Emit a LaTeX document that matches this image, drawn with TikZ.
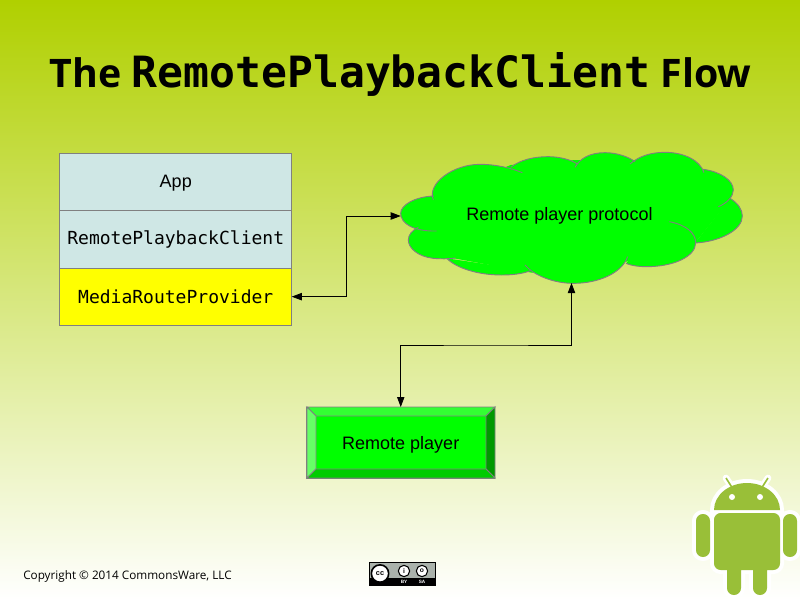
\documentclass[tikz,border=0pt]{standalone}
\usepackage{fontspec}
\setmainfont{Liberation Sans}
\setmonofont{DejaVu Sans Mono}
\newfontfamily\footfont{Open Sans}
\newfontfamily\titlefont{Open Sans}
\usetikzlibrary{positioning,arrows.meta}
\definecolor{skygreen}{HTML}{B0D000}
\definecolor{boxblue}{HTML}{CFE7E5}
\definecolor{boxyellow}{HTML}{FFFF00}
\definecolor{edgegray}{HTML}{808080}
\definecolor{droidgreen}{HTML}{99BF38}
\definecolor{badgegray}{HTML}{AAB2AB}
\tikzset{
	stackbox/.style={draw=edgegray,fill=boxblue,minimum width=174pt,minimum height=43pt,inner sep=0pt,outer sep=0pt,font=\fontsize{13.5}{16}\selectfont\ttfamily},
	flow/.style={{Triangle[length=7.5pt,width=5.5pt]}-{Triangle[length=7.5pt,width=5.5pt]},black,line width=0.6pt},
	bevel/.style={draw=edgegray,line width=0.7pt,line join=miter},
	lobe/.style={fill=green,draw=none}
}
% outline of the cloud, one lobe after another
\newcommand{\cloudlobes}{
	(140,273) .. controls (70,275) and (32,250) .. (32,220) .. controls (32,195) and (75,170) .. (132,168)
	(130,180) .. controls (110,130) and (190,73) .. (270,73) .. controls (320,73) and (365,85) .. (397,98)
	(362,82) .. controls (390,60) and (430,50) .. (475,50) .. controls (510,50) and (545,60) .. (562,72)
	(555,82) .. controls (570,55) and (600,38) .. (645,38) .. controls (680,38) and (715,50) .. (735,65)
	(720,72) .. controls (745,50) and (780,37) .. (825,37) .. controls (880,37) and (930,60) .. (942,98)
	(940,88) .. controls (990,95) and (1030,120) .. (1030,150) .. controls (1030,170) and (1010,190) .. (985,200)
	(1020,175) .. controls (1045,190) and (1057,210) .. (1057,228) .. controls (1057,270) and (990,305) .. (915,309)
	(838,245) .. controls (890,255) and (917,280) .. (917,308) .. controls (917,350) and (850,380) .. (770,380) .. controls (745,380) and (725,377) .. (708,370)
	(713,350) .. controls (695,400) and (625,430) .. (550,430) .. controls (490,430) and (430,405) .. (405,375)
	(422,392) .. controls (395,402) and (365,405) .. (335,405) .. controls (265,405) and (200,385) .. (170,355)
	(197,354) .. controls (175,357) and (150,357) .. (130,355) .. controls (85,350) and (55,325) .. (55,300) .. controls (55,285) and (65,272) .. (85,262)
}
\newcommand{\droidparts}{
	(714,510) arc[start angle=180,end angle=360,x radius=33,y radius=27] -- cycle
	[rounded corners=5pt] (714,513) rectangle (780,570)
	[rounded corners=5.2pt] (696,514) rectangle (710,557)
	(783,514) rectangle (797,557)
	(727,560) rectangle (741,595)
	(753,560) rectangle (767,595)
}
\begin{document}
\begin{tikzpicture}[x=0.75pt,y=-0.75pt]
	\path[use as bounding box,top color=skygreen,bottom color=white] (0,0) rectangle (800,600);

	\node (title) at (400.5,74.5) {\bfseries\titlefont\fontsize{29.5}{36}\selectfont The \ttfamily\fontsize{32.3}{36}\selectfont RemotePlaybackClient\titlefont\fontsize{29.5}{36}\selectfont{} Flow};

	% stack on the left
	\node[stackbox,text depth=1.5pt] (app) at (175.75,182) {\rmfamily App};
	\node[stackbox,below=0pt of app] (client) {RemotePlaybackClient};
	\node[stackbox,below=0pt of client,fill=boxyellow] (provider) {MediaRouteProvider};

	% cloud
	\begin{scope}[shift={(390,140)},x=0.25pt,y=-0.25pt]
		\fill[lobe] (128,172) -- (362,75) -- (558,60) -- (727,60) -- (940,92) -- (1020,178) -- (915,309) -- (710,365) -- (425,398) -- (165,350) -- (75,268) -- cycle;
		\path[lobe] \cloudlobes;
		\draw[edgegray,line width=0.7pt] \cloudlobes;
	\end{scope}
	\node[minimum width=237.75pt,minimum height=100.5pt,inner sep=0pt,font=\fontsize{13.5}{16}\selectfont] (cloud) at (559.5,216) {Remote player protocol};
	\coordinate (cloudtip) at (571.5,283);

	% remote player
	\node[bevel,fill=green,minimum width=141pt,minimum height=53.25pt,inner sep=0pt,outer sep=0pt,text depth=0pt,font=\fontsize{13.5}{16}\selectfont] (player) at (400.75,442.5) {Remote player};
	\fill[green!80!white,bevel] (307,407) -- (495,407) -- (486,416) -- (316,416) -- cycle;
	\fill[green!60!white,bevel] (307,407) -- (316,416) -- (316,469) -- (307,478) -- cycle;
	\fill[green!60!black,bevel] (495,407) -- (495,478) -- (486,469) -- (486,416) -- cycle;
	\fill[green!80!black,bevel] (307,478) -- (316,469) -- (486,469) -- (495,478) -- cycle;

	\coordinate (elbowa) at (346.5,256);
	\coordinate (elbowb) at (486,345);
	\draw[flow] (provider.east) -| (elbowa) |- (cloud.west);
	\draw[flow] (player.north) |- (elbowb) -| (cloudtip);

	\node[anchor=west,font=\fontsize{8.8}{11}\selectfont\footfont,inner sep=0pt] (copyright) at (23,576.5) {Copyright © 2014 CommonsWare, LLC};

	% licence badge
	\node[draw=black,fill=badgegray,minimum width=50pt,minimum height=17pt,inner sep=0pt,line width=0.7pt] (badge) at (402.5,574) {};
	\fill[black] (369,578) rectangle (436,585.5);
	\node[circle,draw=black,fill=white,line width=1.2pt,minimum size=13pt,inner sep=0pt,font=\fontsize{5.5}{6}\selectfont\bfseries] (cc) at (380,573.5) {cc};
	\node[circle,draw=black,fill=white,line width=0.8pt,minimum size=8.5pt,inner sep=0pt,font=\fontsize{5}{6}\selectfont\bfseries] (by) at (404,571) {i};
	\node[circle,draw=black,fill=white,line width=0.8pt,minimum size=8.5pt,inner sep=0pt,font=\fontsize{5}{6}\selectfont\bfseries] (sa) at (422,571) {o};
	\node[text=white,inner sep=0pt,font=\fontsize{3.5}{4}\selectfont\bfseries] (bylabel) at (404,581.5) {BY};
	\node[text=white,inner sep=0pt,font=\fontsize{3.5}{4}\selectfont\bfseries] (salabel) at (422,581.5) {SA};

	% android
	\draw[white,line width=5pt,line cap=round] (726,478) -- (732,487) (768,478) -- (762,487);
	\path[draw=white,fill=white,line width=6pt] \droidparts;
	\fill[droidgreen] \droidparts;
	\draw[droidgreen,line width=1.2pt] (726,478) -- (733,489) (768,478) -- (761,489);
	\fill[white] (732,497) circle[radius=3] (760,497) circle[radius=3];
\end{tikzpicture}
\end{document}
